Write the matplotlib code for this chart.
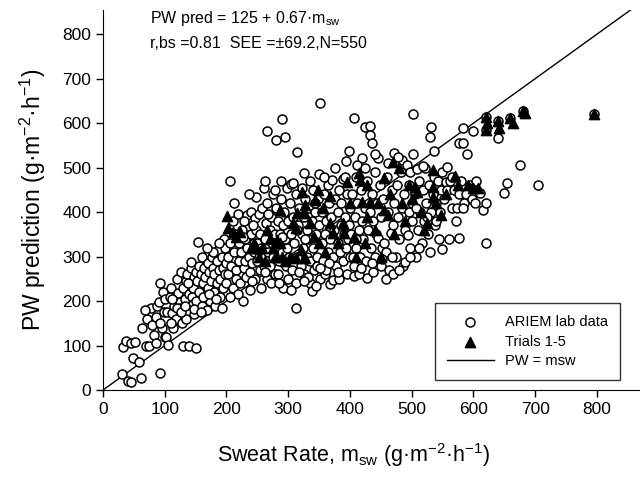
import numpy as np
import matplotlib
matplotlib.use('Agg')
import matplotlib.pyplot as plt

plt.rcParams['font.family'] = ['Liberation Sans', 'DejaVu Sans']
plt.rcParams['mathtext.default'] = 'regular'

# ARIEM lab data (sweat rate, PW prediction)
lab_pts = [
    (30,35),(33,97),(38,110),(40,20),(45,18),(45,105),(48,72),(52,108),(58,63),(62,27),
    (63,140),(70,98),(72,160),(75,100),(78,184),(80,146),(82,124),(85,106),(88,190),(90,198),
    (93,38),(93,240),(95,139),(97,220),(98,175),(100,120),(100,205),(68,180),(85,165),(92,150),
    (102,119),(104,175),(105,101),(108,210),(110,230),(112,173),(114,139),(115,190),(118,160),(120,250),
    (122,218),(124,198),(125,184),(126,265),(128,150),(130,99),(130,230),(132,205),(134,245),(136,260),
    (138,178),(140,100),(140,215),(142,275),(144,210),(145,194),(146,230),(148,254),(148,170),(150,265),
    (150,200),(135,160),(110,150),(120,185),(138,240),(143,288),(147,183),(112,205),(127,175),(133,190),
    (151,94),(154,333),(152,245),(155,280),(156,220),(158,260),(160,190),(160,300),(162,240),(164,275),
    (165,210),(166,255),(168,180),(170,285),(170,230),(172,265),(174,200),(175,245),(176,300),(178,275),
    (180,220),(180,260),(182,190),(184,290),(185,240),(186,315),(188,270),(190,210),(190,250),(192,300),
    (194,230),(195,275),(196,340),(198,260),(198,320),(200,285),(200,240),(178,310),(162,210),(188,330),
    (172,215),(158,175),(168,320),(183,205),(193,185),
    (202,300),(203,260),(205,470),(206,330),(208,280),(210,230),(210,380),(212,310),(214,350),(215,270),
    (216,250),(218,395),(220,290),(220,330),(222,240),(224,310),(225,360),(226,200),(228,275),(230,340),
    (230,290),(232,255),(233,393),(234,320),(236,300),(238,265),(240,350),(240,400),(242,285),(244,330),
    (245,310),(246,250),(247,386),(248,434),(248,360),(250,290),(250,330),(212,420),(236,440),(228,380),
    (243,370),(218,215),(205,210),(238,225),(226,345),
    (252,300),(253,395),(254,350),(255,270),(256,320),(258,410),(260,454),(260,280),(262,340),(263,300),
    (264,375),(265,250),(266,582),(266,420),(268,310),(270,360),(270,280),(272,390),(274,330),(275,440),
    (276,300),(278,350),(278,260),(280,410),(281,562),(282,320),(284,380),(285,290),(286,350),(288,430),
    (289,470),(290,609),(290,310),(292,370),(294,400),(295,568),(295,340),(296,280),(298,455),(298,320),
    (300,380),(300,250),(256,230),(272,240),(284,260),(292,230),(262,470),(279,450),(268,395),(290,345),
    (302,300),(303,420),(305,463),(305,350),(306,270),(308,390),(310,330),(312,184),(312,240),(313,440),
    (315,535),(315,300),(316,370),(318,410),(320,280),(322,350),(324,320),(325,488),(325,390),(326,260),
    (328,430),(330,300),(330,360),(332,340),(334,410),(335,290),(336,240),(338,222),(338,380),(340,450),
    (340,320),(342,270),(344,400),(345,350),(346,300),(348,430),(350,370),(350,485),(352,645),(352,250),
    (307,465),(322,455),(336,470),(344,420),(314,360),(327,340),(347,280),
    (354,330),(355,400),(356,290),(358,440),(360,350),(360,260),(362,380),(364,310),(365,460),(366,420),
    (367,238),(368,340),(370,390),(371,472),(372,300),(373,247),(374,360),(376,430),(378,280),(380,400),
    (380,330),(382,450),(384,310),(385,370),(386,420),(388,474),(388,290),(390,350),(392,390),(393,515),
    (394,320),(395,440),(396,260),(398,370),(399,537),(400,300),(400,410),(358,480),(376,500),(392,480),
    (362,270),(383,250),(397,340),
    (402,350),(404,440),(406,611),(406,280),(407,256),(408,390),(410,480),(410,320),(412,420),(414,360),
    (416,300),(418,450),(419,521),(420,380),(422,340),(424,591),(424,410),(426,290),(428,251),(428,470),
    (430,360),(432,573),(433,593),(432,400),(434,320),(435,555),(436,440),(438,265),(438,380),(440,490),
    (441,300),(442,350),(444,420),(446,521),(446,342),(448,460),(450,390),(450,280),(412,505),(425,500),
    (440,530),(415,260),
    (452,320),(454,430),(456,330),(458,310),(460,480),(462,400),(464,270),(466,353),(468,450),(470,370),
    (471,532),(472,420),(474,300),(476,460),(478,390),(480,340),(482,490),(484,410),(485,517),(486,280),
    (488,440),(490,288),(490,360),(492,505),(494,348),(495,400),(496,460),(498,320),(500,420),(500,380),
    (503,620),(503,530),(462,510),(478,525),(497,490),(458,250),(470,260),
    (505,440),(507,300),(509,497),(510,360),(512,470),(514,400),(516,330),(518,450),(520,380),(522,500),
    (524,420),(526,350),(528,460),(530,310),(532,400),(535,440),(536,480),(538,370),(540,420),(542,470),
    (544,340),(546,400),(548,450),(550,317),(550,490),(540,380),(507,410),(525,390),
    (531,591),(529,569),(584,589),(599,582),(576,555),(584,555),(537,537),(640,566),(519,503),(558,501),
    (552,430),(555,467),(558,449),(560,340),(562,470),(565,410),(568,450),(572,380),(576,440),(576,342),
    (588,440),(580,470),(585,420),(573,409),(584,409),(595,460),(598,430),(600,455),(565,480),(590,530),
    (602,420),(605,470),(610,442),(615,404),(620,420),(620,330),(655,465),(650,442),(675,505),(705,460),
    (620,615),(620,585),(640,605),(660,612),(680,628),(795,620),
    (318,265),(332,255),(352,275),(366,285),(381,265),(405,300),(418,275),(436,285),(452,295),(468,300),
    (285,240),(305,225),(325,245),(345,235),(262,265),(242,245),(480,270),(512,320),(498,300),(410,340),
]
lab_x = [p[0] for p in lab_pts]
lab_y = [p[1] for p in lab_pts]

# Trials 1-5
trial_pts = [
    (201,391),(203,364),(210,355),(222,355),(215,345),(239,319),(248,319),(258,319),(245,330),(252,300),
    (266,360),(270,340),(275,320),(282,337),(287,330),(287,404),(290,300),(295,290),(303,299),(308,375),
    (312,364),(312,297),(315,398),(320,315),(323,445),(325,398),(328,297),(328,416),(336,375),
    (341,344),(344,427),(349,449),(350,330),(357,409),(360,310),(367,436),(368,375),(373,353),(380,330),
    (388,375),(390,353),(396,467),(400,420),(406,344),(410,300),(414,488),(417,472),(420,422),(425,330),
    (428,461),(428,389),(433,422),(440,360),(445,420),(450,300),(455,476),(455,404),(461,393),(465,440),
    (469,512),(472,350),(479,499),(485,420),(490,380),(495,460),(500,430),(506,456),(509,445),(515,400),
    (520,360),(525,375),(534,494),(534,456),(534,434),(540,420),(547,393),(555,440),(570,481),(575,460),
    (591,461),(600,455),(607,454),(620,615),(620,585),(622,600),(640,605),(642,590),(660,612),(665,600),
    (680,628),(683,622),(795,620),(262,290),(278,300),
]
trial_x = [p[0] for p in trial_pts]
trial_y = [p[1] for p in trial_pts]

line_x = [0, 870]

fig = plt.figure(figsize=(6.4, 4.8), dpi=100)
ax = fig.add_axes([0.161, 0.1875, 0.839, 0.792])

ax.scatter(lab_x, lab_y, s=42, facecolors='white', edgecolors='black',
           linewidths=1.1, label='ARIEM lab data', zorder=2)
ax.scatter(trial_x, trial_y, s=55, marker='^', color='black',
           label='Trials 1-5', zorder=3)
ax.plot(line_x, line_x, color='black', lw=1, label='PW = msw', zorder=1)

ax.set_xlim(0, 870)
ax.set_ylim(0, 855)
ax.set_xticks(range(0, 801, 100))
ax.set_yticks(range(0, 801, 100))
ax.tick_params(direction='out', length=5, width=1, labelsize=12.5)
for s in ['top', 'right']:
    ax.spines[s].set_visible(False)

ax.set_xlabel('Sweat Rate, m$_{sw}$ (g·m$^{-2}$·h$^{-1}$)', fontsize=15.5)
ax.xaxis.set_label_coords(0.466, -0.135)
ax.set_ylabel('PW prediction (g·m$^{-2}$·h$^{-1}$)', fontsize=16.5)
ax.yaxis.set_label_coords(-0.103, 0.5)

ax.text(0.088, 0.978, 'PW pred = 125 + 0.67·m$_{sw}$', transform=ax.transAxes,
        fontsize=11.5, va='center')
ax.text(0.088, 0.912, 'r,bs =0.81  SEE =±69.2,N=550', transform=ax.transAxes,
        fontsize=11.5, va='center')

leg = ax.legend(loc='lower right', bbox_to_anchor=(0.963, 0.026), borderaxespad=0,
                fontsize=10.5, frameon=True, fancybox=False, edgecolor='black',
                handlelength=3.2, borderpad=0.8, labelspacing=0.4)
leg.get_frame().set_linewidth(1)

fig.savefig('out.png', dpi=100)
